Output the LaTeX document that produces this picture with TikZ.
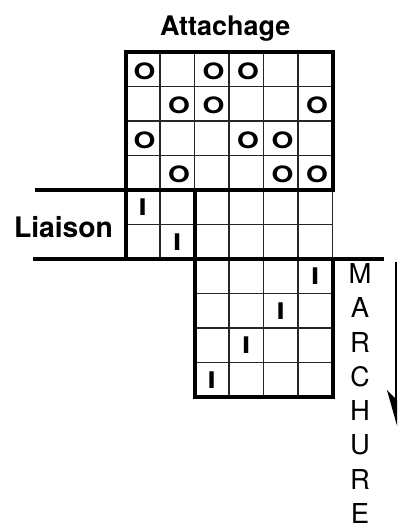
\documentclass[tikz,border=0pt]{standalone}
\usepackage{fontspec}
\setmainfont{TeX Gyre Heros}
\usepackage{graphicx}
\usetikzlibrary{arrows.meta}
\tikzset{
    fineline/.style={line width=1.6pt, draw=black!85},
    heavyline/.style={line width=4pt, line cap=rect},
    cellmark/.style={font=\bfseries, inner sep=0pt}
}
\newcommand{\ringmark}{\resizebox{21.8pt}{16.7pt}{O}}
\newcommand{\barmark}{\resizebox{8.1pt}{16.7pt}{I}}

\begin{document}
\begin{tikzpicture}[
    x=34.5pt, y=-34.5pt,
    title/.style={font=\bfseries, inner sep=0pt, anchor=base},
    vletter/.style={inner sep=0pt, anchor=base}
]
\useasboundingbox (-3.638,-1.507) rectangle (7.899,13.739);
% thin grid lines
\foreach \i in {1,...,5} \draw[fineline] (\i,0) -- (\i,4);
\foreach \j in {1,2,3} \draw[fineline] (0,\j) -- (6,\j);
\foreach \i in {1,3,4,5,6} \draw[fineline] (\i,4) -- (\i,6);
\draw[fineline] (0,5) -- (6,5);
\foreach \i in {3,4,5} \draw[fineline] (\i,6) -- (\i,10);
\foreach \j in {7,8,9} \draw[fineline] (2,\j) -- (6,\j);
% heavy borders
\draw[heavyline] (0,4) -- (0,0) -- (6,0) -- (6,4);
\draw[heavyline] (-2.57,4) -- (6,4);
\draw[heavyline] (0,4) -- (0,6);
\draw[heavyline] (-2.62,6) -- (7.43,6);
\draw[heavyline] (2,4) -- (2,10) -- (6,10) -- (6,6);
% marks in the cells
\foreach \c/\r [count=\k] in {0/0,2/0,3/0,1/1,2/1,5/1,0/2,3/2,4/2,1/3,4/3,5/3}
  \node[cellmark] (o\k) at (\c+0.55,\r+0.55) {\ringmark};
\foreach \c/\r [count=\k] in {0/4,1/5,5/6,4/7,3/8,2/9}
  \node[cellmark] (i\k) at (\c+0.5,\r+0.5) {\barmark};
% labels
\node[title] (attach) at (2.89,-0.49) {\resizebox{130pt}{!}{Attachage}};
\node[title] (liaison) at (-1.797,5.39) {\resizebox{99pt}{!}{Liaison}};
\foreach \l [count=\k] in {M,A,R,C,H,U,R,E}
  \node[vletter] (m\k) at (6.797,{6.71+0.994*(\k-1)}) {\resizebox{!}{20pt}{\l}};
% arrow
\coordinate (arrtop) at (7.84,6.09);
\coordinate (arrtip) at (7.84,10.84);
\draw[line width=2.2pt, -{Stealth[harpoon,swap,length=32pt,width=18pt,inset=9pt]}] (arrtop) -- (arrtip);
\end{tikzpicture}
\end{document}
